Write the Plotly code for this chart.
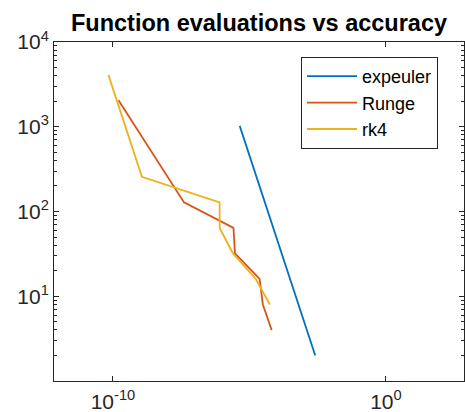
import plotly.graph_objects as go

# Data: accuracy (error) vs number of function evaluations
expeuler_err = [4.4e-6, 8.9e-6, 1.8e-5, 3.6e-5, 7.4e-5, 1.5e-4, 3.1e-4, 6.2e-4, 1.26e-3, 2.57e-3]
expeuler_n = [1024, 512, 256, 128, 64, 32, 16, 8, 4, 2]

runge_err = [1.6e-10, 4.0e-8, 2.6e-6, 2.95e-6, 2.35e-5, 3.1e-5, 6.5e-5]
runge_n = [2048, 128, 64, 32, 16, 8, 4]

rk4_err = [6.8e-11, 1.15e-9, 8.1e-7, 8.1e-7, 2.5e-6, 1.7e-5, 5.6e-5]
rk4_n = [4096, 256, 128, 64, 32, 16, 8]

x_tick_vals = [1e-10, 1]
x_tick_text = ["10<sup>-10</sup>", "10<sup>0</sup>"]
y_tick_vals = [10, 100, 1000, 10000]
y_tick_text = ["10<sup>1</sup>", "10<sup>2</sup>", "10<sup>3</sup>", "10<sup>4</sup>"]

names = ["expeuler", "Runge", "rk4"]
colors = ["#0072BD", "#D95319", "#EDB120"]

axis_col = "#262626"
font_fam = "Liberation Sans, Arial, sans-serif"

fig = go.Figure()
for name, xs, ys, c in zip(names, [expeuler_err, runge_err, rk4_err],
                           [expeuler_n, runge_n, rk4_n], colors):
    fig.add_trace(go.Scatter(x=xs, y=ys, mode="lines", name=name,
                             line=dict(color=c, width=1.8)))

minor_y = [m * 10 ** k for k in range(0, 4) for m in range(2, 10)]

fig.update_layout(
    width=465, height=412,
    margin=dict(l=54, r=1, t=42, b=31),
    paper_bgcolor="white", plot_bgcolor="white",
    font=dict(family=font_fam, color=axis_col, size=21),
    title=dict(text="<b>Function evaluations vs accuracy</b>",
               font=dict(size=23.5, color="black", family=font_fam),
               x=(54 + 464) / 2 / 465, xanchor="center",
               y=1 - 23 / 412, yanchor="middle", yref="container"),
    showlegend=True,
    legend=dict(x=(301 - 54) / 410, y=1 - (57 - 42) / 339,
                xanchor="left", yanchor="top",
                bgcolor="white", bordercolor=axis_col, borderwidth=1,
                font=dict(size=18, color="black"),
                itemwidth=50, tracegroupgap=0),
)

fig.update_xaxes(
    type="log", range=[-12.16, 2.86],
    tickmode="array", tickvals=x_tick_vals, ticktext=x_tick_text,
    ticks="inside", ticklen=5, tickcolor=axis_col,
    showline=True, linecolor=axis_col, linewidth=1, mirror="ticks",
    showgrid=False, zeroline=False,
    tickfont=dict(size=21, color=axis_col),
    ticklabelstandoff=2, automargin=False,
)
fig.update_yaxes(
    type="log", range=[0, 4],
    tickmode="array", tickvals=y_tick_vals, ticktext=y_tick_text,
    ticks="inside", ticklen=5, tickcolor=axis_col,
    minor=dict(tickmode="array", tickvals=minor_y, ticks="inside",
               ticklen=3, tickcolor=axis_col, showgrid=False),
    showline=True, linecolor=axis_col, linewidth=1, mirror="ticks",
    showgrid=False, zeroline=False,
    tickfont=dict(size=21, color=axis_col),
    automargin=False,
)

fig.write_html("out.html")
